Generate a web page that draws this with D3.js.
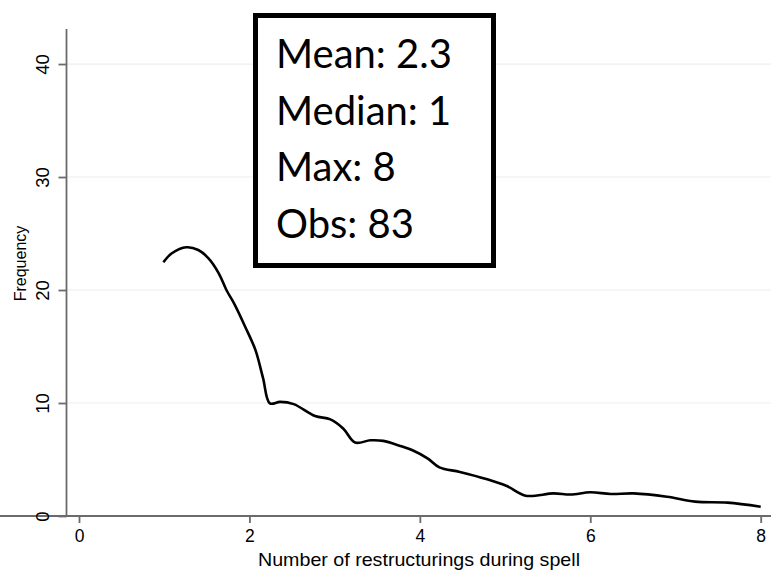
<!DOCTYPE html>
<html>
<head>
<meta charset="utf-8">
<script src="https://cdn.jsdelivr.net/npm/d3@7"></script>
<style>
  body { margin: 0; background: #fff; }
  svg { display: block; }
</style>
</head>
<body>
<div id="canvas"></div>
<script>
"use strict"

let svgWidth = 771;
let svgHeight = 572;

// curve
let restructurings = [0.99, 1.09, 1.26, 1.40, 1.52, 1.64, 1.73, 1.83, 1.95, 2.07, 2.16, 2.24,
    2.36, 2.52, 2.77, 2.95, 3.1, 3.24, 3.42, 3.57, 3.77, 3.92, 4.09, 4.23, 4.47, 4.79, 5.02, 5.24,
    5.57, 5.77, 6.0, 6.24, 6.51, 6.9, 7.23, 7.61, 8.0];
let frequency = [22.45, 23.25, 23.78, 23.54, 22.8, 21.48, 20.0, 18.67, 16.75, 14.7, 12.2, 9.97,
    10.1, 9.9, 8.85, 8.55, 7.75, 6.5, 6.7, 6.65, 6.2, 5.8, 5.1, 4.3, 3.9, 3.25, 2.65, 1.8,
    2.0, 1.9, 2.1, 1.95, 2.0, 1.7, 1.27, 1.18, 0.82];

let xTicks = [0, 2, 4, 6, 8];
let yTicks = [0, 10, 20, 30, 40];
let statLines = ["Mean: 2.3", "Median: 1", "Max: 8", "Obs: 83"];

let svg = d3.select("#canvas")
    .append("svg")
    .attr("width", svgWidth)
    .attr("height", svgHeight);

let xScale = d3.scaleLinear()
    .domain([0, 8])
    .range([79, 760.7]);

let yScale = d3.scaleLinear()
    .domain([0, 43.1])
    .range([516, 29]);

/* light gridlines */
svg.append("g")
    .selectAll("line")
    .data(yTicks.filter(d => d > 0))
    .join("line")
    .attr("x1", 67)
    .attr("x2", 771)
    .attr("y1", d => yScale(d))
    .attr("y2", d => yScale(d))
    .attr("stroke", "#eeeeee")
    .attr("stroke-width", 1.2);

/* axes */
let xAxis = svg.append("g")
    .attr("transform", "translate(0,516)")
    .call(d3.axisBottom(xScale).tickValues(xTicks).tickSize(7).tickPadding(7));

let yAxis = svg.append("g")
    .attr("transform", "translate(66.5,0)")
    .call(d3.axisLeft(yScale).tickValues(yTicks).tickSize(8).tickPadding(6));

xAxis.select(".domain").attr("d", "M-12,0H771");
yAxis.select(".domain").attr("d", "M0,29V516");

[xAxis, yAxis].forEach(function (ax) {
    ax.selectAll(".domain, .tick line")
        .attr("stroke", "#6b6b6b")
        .attr("stroke-width", 1.8);
    ax.selectAll("text")
        .attr("fill", "#000")
        .style("font-family", "'Liberation Sans', Arial, sans-serif")
        .style("font-size", "17.5px");
});

// y tick labels are turned on their side
yAxis.selectAll(".tick text")
    .attr("transform", "rotate(-90)")
    .attr("x", 0)
    .attr("y", -18)
    .attr("text-anchor", "middle")
    .attr("dy", "0")
    .style("font-size", "18.5px");

/* axis titles */
svg.append("text")
    .attr("x", 258)
    .attr("y", 566)
    .attr("textLength", 322)
    .attr("lengthAdjust", "spacingAndGlyphs")
    .style("font-family", "'Liberation Sans', Arial, sans-serif")
    .style("font-size", "18.5px")
    .text("Number of restructurings during spell");

svg.append("text")
    .attr("transform", "translate(26,263.5) rotate(-90)")
    .attr("text-anchor", "middle")
    .style("font-family", "'Liberation Sans', Arial, sans-serif")
    .style("font-size", "16px")
    .text("Frequency");

/* the curve */
let line = d3.line()
    .x((d, i) => xScale(restructurings[i]))
    .y(d => yScale(d))
    .curve(d3.curveCatmullRom.alpha(0.5));

svg.append("path")
    .datum(frequency)
    .attr("d", line)
    .attr("fill", "none")
    .attr("stroke", "#000")
    .attr("stroke-width", 2.6)
    .attr("stroke-linejoin", "round");

/* stats box */
svg.append("rect")
    .attr("x", 255.5)
    .attr("y", 15.5)
    .attr("width", 238)
    .attr("height", 250)
    .attr("fill", "#fff")
    .attr("stroke", "#000")
    .attr("stroke-width", 5);

svg.append("g")
    .selectAll("text")
    .data(statLines)
    .join("text")
    .attr("x", 276)
    .attr("y", (d, i) => 68 + i * 56.5)
    .style("font-family", "Lato, 'Open Sans', sans-serif")
    .style("font-size", "40px")
    .text(d => d);
</script>
</body>
</html>
